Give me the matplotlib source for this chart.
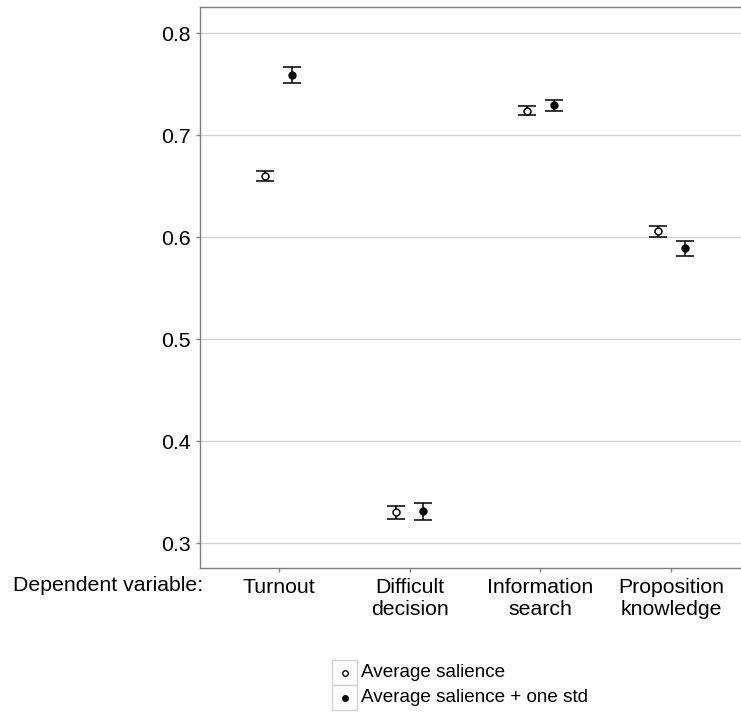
import numpy as np
import matplotlib.pyplot as plt
from matplotlib.patches import Rectangle

plt.rcParams['font.family'] = ['Liberation Sans', 'DejaVu Sans']

# Estimates with half-widths of the intervals
categories = ['Turnout', 'Difficult\ndecision', 'Information\nsearch', 'Proposition\nknowledge']
avg_mean = [0.660, 0.330, 0.724, 0.6055]
avg_err = [0.005, 0.006, 0.004, 0.0055]
std_mean = [0.759, 0.331, 0.729, 0.589]
std_err = [0.0078, 0.008, 0.0052, 0.0072]
labels = ['Average salience', 'Average salience + one std']

fs = 15.3

fig = plt.figure(figsize=(7.41, 7.15), dpi=100)
ax = fig.add_axes([200 / 741, 1 - 568 / 715, 550 / 741, 561 / 715])

x = np.arange(1, len(categories) + 1)
dodge = 0.1
ax.errorbar(x - dodge, avg_mean, yerr=avg_err, fmt='o', ms=5, mfc='white', mec='black',
            mew=1.1, ecolor='black', elinewidth=1.1, capsize=6.5, capthick=1.1, zorder=3)
ax.errorbar(x + dodge, std_mean, yerr=std_err, fmt='o', ms=5, mfc='black', mec='black',
            ecolor='black', elinewidth=1.1, capsize=6.5, capthick=1.1, zorder=3)

ax.set_xlim(0.4, 4.6)
ax.set_ylim(0.2755, 0.8255)
ax.set_yticks([0.3, 0.4, 0.5, 0.6, 0.7, 0.8])
ax.set_yticklabels(['0.3', '0.4', '0.5', '0.6', '0.7', '0.8'])
ax.set_xticks(x)
ax.set_xticklabels(categories, linespacing=1.2)
ax.grid(axis='y', color='#d4d4d4', lw=1)
ax.set_axisbelow(True)
for s in ['top', 'left', 'bottom', 'right']:
    ax.spines[s].set_color('#7f7f7f')
    ax.spines[s].set_linewidth(1)
ax.tick_params(axis='both', colors='#7f7f7f', length=3, width=1, labelsize=fs,
               labelcolor='black', pad=4)

fig.text(203 / 741, 1 - 576 / 715, 'Dependent variable:', ha='right', va='top', fontsize=fs)

# legend keys below the plot
kax = fig.add_axes([332 / 741, 1 - 710 / 715, 25 / 741, 50 / 715])
kax.set_xlim(0, 1)
kax.set_ylim(0, 2)
kax.axis('off')
for row in range(2):
    kax.add_patch(Rectangle((0, row), 1, 1, fill=False, ec='#d4d4d4', lw=1, clip_on=False))
kax.plot([0.5], [1.5], 'o', ms=4, mfc='white', mec='black', mew=1)
kax.plot([0.5], [0.5], 'o', ms=4, mfc='black', mec='black')
kax.text(1.15, 1.5, labels[0], va='center', ha='left', fontsize=13.6,
         transform=kax.transData, clip_on=False)
kax.text(1.15, 0.5, labels[1], va='center', ha='left', fontsize=13.6,
         transform=kax.transData, clip_on=False)

fig.savefig('out.png', dpi=100)
